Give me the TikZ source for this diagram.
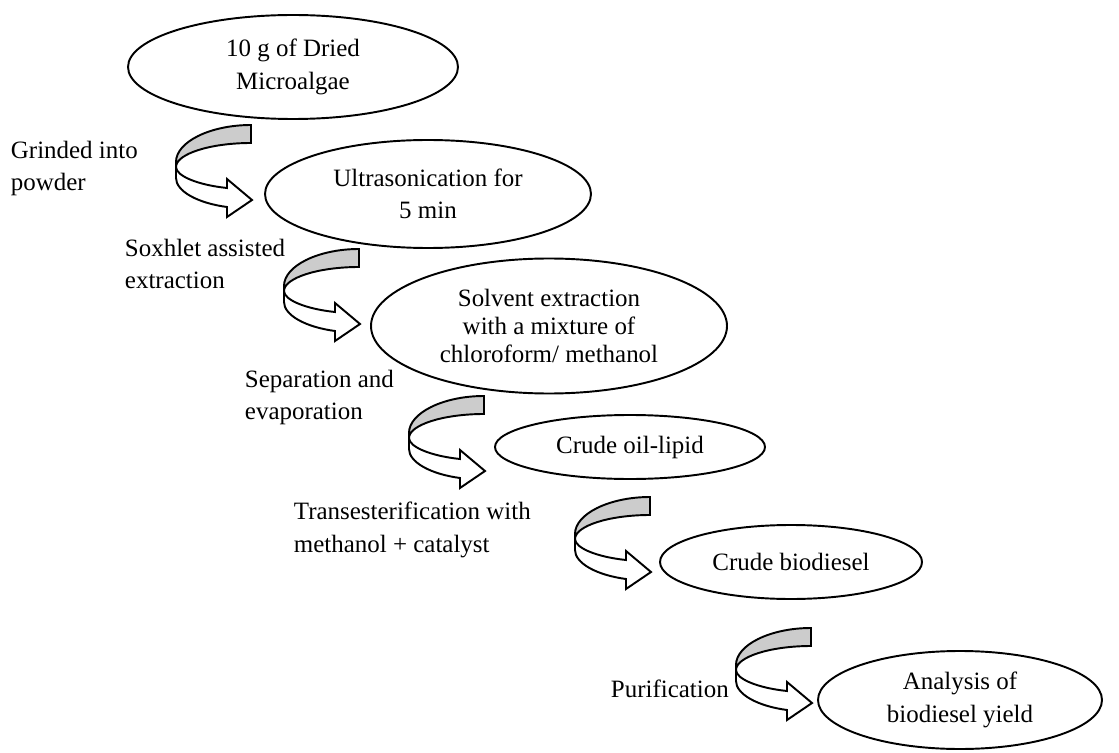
\documentclass[tikz,border=0pt]{standalone}
\usepackage{fontspec}
\setmainfont{Liberation Serif}
\usetikzlibrary{shapes.geometric}
\definecolor{lgray}{rgb}{0.8,0.8,0.8}
\tikzset{
  stage/.style={draw,ellipse,line width=1.1pt,align=center,inner sep=0pt},
  note/.style={anchor=north west,align=left,inner sep=0pt},
  bentarrow/.pic={
    \filldraw[fill=white] (-75,37) -- (-75,53) .. controls (-75,66) and (-54,78) .. (-24,82)
      -- (-24,92) -- (1,75) -- (-24,54) -- (-24,63)
      .. controls (-53,60) and (-75,51) .. (-75,42) -- cycle;
    \filldraw[fill=lgray] (0,0) .. controls (-41,0) and (-75,17) .. (-75,37) -- (-75,42)
      .. controls (-75,29) and (-41,18) .. (0,18) -- cycle;
  }
}

\begin{document}
\begin{tikzpicture}[x=0.02cm,y=-0.02cm,line width=1.1pt,
  font=\fontsize{14.2pt}{18.6pt}\selectfont]
\useasboundingbox (0,0) rectangle (1119,753);
% stages
\node[stage,minimum width=330*0.02cm,minimum height=104*0.02cm] (dried) at (293,67) {10 g of Dried\\Microalgae};
\node[stage,minimum width=326*0.02cm,minimum height=108*0.02cm] (ultra) at (428,194) {Ultrasonication for\\5 min};
\node[stage,minimum width=356*0.02cm,minimum height=135*0.02cm,
  font=\fontsize{14.2pt}{16pt}\selectfont] (solvent) at (549,326) {Solvent extraction\\with a mixture of\\chloroform/ methanol};
\node[stage,minimum width=270*0.02cm,minimum height=64*0.02cm] (oil) at (630,447) {Crude oil-lipid};
\node[stage,minimum width=262*0.02cm,minimum height=74*0.02cm] (biodiesel) at (791,562) {Crude biodiesel};
\node[stage,minimum width=284*0.02cm,minimum height=98*0.02cm] (analysis) at (960,700) {Analysis of\\biodiesel yield};
% bent arrows between stages
\foreach \x/\y in {251/125,359/249,484/396,650/497,811/628} {
    \pic at (\x,\y) {bentarrow};
}
% step notes
\node[note] (grind) at (10,140) {Grinded into\\powder};
\node[note] (soxhlet) at (124,238) {Soxhlet assisted\\extraction};
\node[note] (separ) at (244,369) {Separation and\\evaporation};
\node[note] (trans) at (293,501) {Transesterification with\\methanol + catalyst};
\node[note] (purif) at (610,679) {Purification};
\end{tikzpicture}
\end{document}
